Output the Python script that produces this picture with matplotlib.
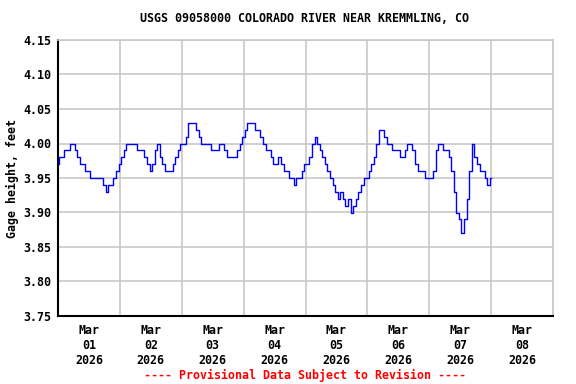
"""
USGS gage height plot
Colorado River near Kremmling, CO (provisional data)
"""

import pandas as pd
import matplotlib
matplotlib.use("Agg")
import matplotlib.pyplot as plt
import matplotlib.dates as mdates
from matplotlib.ticker import MultipleLocator, FormatStrFormatter


OUTPUT_FILE = "out.png"

TITLE = "USGS 09058000 COLORADO RIVER NEAR KREMMLING, CO"
Y_LABEL = "Gage height, feet"
FOOTER = "---- Provisional Data Subject to Revision ----"

START = "2026-03-01 00:00"
X_START = "2026-03-01 00:00"
X_END = "2026-03-09 00:00"

Y_MIN = 3.75
Y_MAX = 4.15


# Hourly gage height (feet), one list per day

DAY_1 = [3.97, 3.98, 3.98, 3.99, 3.99, 4.00, 4.00, 3.99, 3.98, 3.97, 3.97, 3.96,
         3.96, 3.95, 3.95, 3.95, 3.95, 3.95, 3.94, 3.93, 3.94, 3.94, 3.95, 3.96]
DAY_2 = [3.97, 3.98, 3.99, 4.00, 4.00, 4.00, 4.00, 3.99, 3.99, 3.99, 3.98, 3.97,
         3.96, 3.97, 3.99, 4.00, 3.98, 3.97, 3.96, 3.96, 3.96, 3.97, 3.98, 3.99]
DAY_3 = [4.00, 4.00, 4.01, 4.03, 4.03, 4.03, 4.02, 4.01, 4.00, 4.00, 4.00, 4.00,
         3.99, 3.99, 3.99, 4.00, 4.00, 3.99, 3.98, 3.98, 3.98, 3.98, 3.99, 4.00]
DAY_4 = [4.01, 4.02, 4.03, 4.03, 4.03, 4.02, 4.02, 4.01, 4.00, 3.99, 3.99, 3.98,
         3.97, 3.97, 3.98, 3.97, 3.96, 3.96, 3.95, 3.95, 3.94, 3.95, 3.95, 3.96]
DAY_5 = [3.97, 3.97, 3.98, 4.00, 4.01, 4.00, 3.99, 3.98, 3.97, 3.96, 3.95, 3.94,
         3.93, 3.92, 3.93, 3.92, 3.91, 3.92, 3.90, 3.91, 3.92, 3.93, 3.94, 3.95]
DAY_6 = [3.95, 3.96, 3.97, 3.98, 4.00, 4.02, 4.02, 4.01, 4.00, 4.00, 3.99, 3.99,
         3.99, 3.98, 3.98, 3.99, 4.00, 4.00, 3.99, 3.97, 3.96, 3.96, 3.96, 3.95]
DAY_7 = [3.95, 3.95, 3.96, 3.99, 4.00, 4.00, 3.99, 3.99, 3.98, 3.96, 3.93, 3.90,
         3.89, 3.87, 3.89, 3.92, 3.96, 4.00, 3.98, 3.97, 3.96, 3.96, 3.95, 3.94]
LAST_READING = [3.95]


def main():

    heights = DAY_1 + DAY_2 + DAY_3 + DAY_4 + DAY_5 + DAY_6 + DAY_7 + LAST_READING

    times = pd.date_range(
        START,
        periods=len(heights),
        freq="h"
    )

    plt.rcParams["font.family"] = ["DejaVu Sans Mono"]
    plt.rcParams["font.weight"] = "bold"
    plt.rcParams["axes.labelweight"] = "bold"
    plt.rcParams["font.size"] = 8.4

    fig = plt.figure(figsize=(5.76, 3.84), dpi=100)
    ax = fig.add_axes([58 / 576, 1 - 316 / 384, 495 / 576, 276 / 384])

    ax.plot(
        times,
        heights,
        color="#0000ff",
        linewidth=1.0,
        drawstyle="steps-mid"
    )

    ax.set_xlim(pd.Timestamp(X_START), pd.Timestamp(X_END))
    ax.set_ylim(Y_MIN, Y_MAX)

    # gridlines at midnight, date labels at noon

    ax.xaxis.set_major_locator(mdates.DayLocator())
    ax.xaxis.set_major_formatter(plt.NullFormatter())
    ax.xaxis.set_minor_locator(mdates.HourLocator(byhour=12))
    ax.xaxis.set_minor_formatter(mdates.DateFormatter("%b\n%d\n%Y"))

    ax.yaxis.set_major_locator(MultipleLocator(0.05))
    ax.yaxis.set_major_formatter(FormatStrFormatter("%.2f"))

    ax.tick_params(axis="both", which="both", length=0)
    ax.tick_params(axis="x", which="minor", pad=6)
    ax.tick_params(axis="y", which="major", pad=5)

    ax.grid(True, which="major", color="#c8c8c8", linewidth=1.2)
    ax.set_axisbelow(True)

    for side in ["top", "right"]:
        ax.spines[side].set_color("#c8c8c8")
        ax.spines[side].set_linewidth(1.2)

    for side in ["left", "bottom"]:
        ax.spines[side].set_color("black")
        ax.spines[side].set_linewidth(1.5)

    ax.set_ylabel(Y_LABEL, labelpad=3, fontweight="bold")

    fig.text(
        305 / 576,
        1 - 19 / 384,
        TITLE,
        ha="center",
        va="center",
        fontweight="bold"
    )

    fig.text(
        305 / 576,
        1 - 375 / 384,
        FOOTER,
        ha="center",
        va="center",
        color="#ff0000",
        fontweight="bold"
    )

    fig.savefig(OUTPUT_FILE, dpi=100)
    plt.close(fig)

    print("Saved:", OUTPUT_FILE)


if __name__ == "__main__":
    main()
